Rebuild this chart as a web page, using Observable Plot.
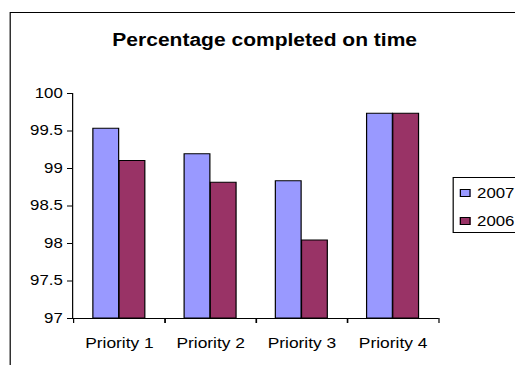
<!DOCTYPE html>
<html>
<head>
<meta charset="utf-8">
<script src="https://cdn.jsdelivr.net/npm/d3@7"></script>
<script src="https://cdn.jsdelivr.net/npm/@observablehq/plot@0.6"></script>
<style>
  html, body { margin: 0; padding: 0; background: #fff; width: 515px; height: 365px; overflow: hidden; }
  /* the chart is laid out at a narrower width, then widened horizontally */
  #stage { position: absolute; left: 0; top: 0; width: 429px; height: 365px;
           transform: scaleX(1.2005); transform-origin: 0 0;
           font-family: "Liberation Sans", Arial, sans-serif; color: #000; }
  #border { position: absolute; left: 8.3px; top: 11.5px; width: 450px; height: 420px;
            border: 1.4px solid #000; box-sizing: border-box; }
  #title { position: absolute; left: 8px; width: 425px; top: 30px; line-height: 20px;
           text-align: center; font-weight: bold; font-size: 17.5px; }
  #plot { position: absolute; left: 0; top: 0; }
  #legend { position: absolute; left: 377.4px; top: 177px; width: 70px; height: 56px;
            border: 1px solid #000; box-sizing: border-box; background: #fff; font-size: 14px; }
  .item { position: absolute; left: 5px; height: 16px; line-height: 16px; white-space: nowrap; }
  .sw { position: absolute; left: 0; top: 3.5px; width: 8.3px; height: 8.3px;
        border: 1px solid #000; box-sizing: border-box; }
  .lab { position: absolute; left: 14px; top: 0; }
</style>
</head>
<body>
<div id="stage">
  <div id="border"></div>
  <div id="title">Percentage completed on time</div>
  <div id="plot"></div>
  <div id="legend"></div>
</div>
<script>
// Categories and the two yearly series (percent completed on time)
const priorities = ["Priority 1", "Priority 2", "Priority 3", "Priority 4"];
const values2007 = [99.53, 99.19, 98.83, 99.73];
const values2006 = [99.10, 98.81, 98.04, 99.73];
const seriesNames = ["2007", "2006"];
const seriesColors = ["#9999FF", "#993366"];
const yTicks = [97, 97.5, 98, 98.5, 99, 99.5, 100];
const yMin = 97, yMax = 100;

const W = 429, H = 365;
const margin = {left: 60, right: 63.6, top: 93, bottom: 47};

// band per category; two bars plus a gap of 1.5 bar widths (split on both sides)
const bandW = (W - margin.left - margin.right) / priorities.length;
const barW = bandW / 3.5;

const rows = (vals) => priorities.map((p, i) => ({priority: p, value: vals[i]}));

const chart = Plot.plot({
  width: W,
  height: H,
  marginLeft: margin.left,
  marginRight: margin.right,
  marginTop: margin.top,
  marginBottom: margin.bottom,
  style: {background: "transparent", fontFamily: "'Liberation Sans', Arial, sans-serif", fontSize: "14px", color: "#000"},
  x: {domain: priorities, padding: 0, axis: null, label: null},
  y: {domain: [yMin, yMax], axis: null, label: null},
  marks: [
    Plot.barY(rows(values2007), {
      x: "priority", y1: yMin, y2: "value",
      fill: seriesColors[0], stroke: "#000", strokeWidth: 1,
      insetLeft: 0.75 * barW, insetRight: bandW - 1.75 * barW
    }),
    Plot.barY(rows(values2006), {
      x: "priority", y1: yMin, y2: "value",
      fill: seriesColors[1], stroke: "#000", strokeWidth: 1,
      insetLeft: 1.75 * barW, insetRight: bandW - 2.75 * barW
    }),
    // value axis
    Plot.frame({anchor: "left", stroke: "#000"}),
    Plot.axisY({ticks: yTicks, tickSize: 4.2, tickPadding: 4, tickFormat: d3.format("~g"),
                fontSize: 14, stroke: "#000", label: null}),
    // category axis: baseline, boundary ticks and labels
    Plot.ruleY([yMin], {stroke: "#000"}),
    Plot.ruleX(priorities, {x: (d) => d, y1: yMin, y2: yMin, insetBottom: -5, dx: -bandW / 2, stroke: "#000"}),
    Plot.ruleX(priorities, {x: (d) => d, y1: yMin, y2: yMin, insetBottom: -5, dx: bandW / 2, stroke: "#000"}),
    Plot.axisX({tickSize: 0, tickPadding: 19, fontSize: 14.5, label: null})
  ]
});
document.getElementById("plot").appendChild(chart);

// legend
const legend = document.getElementById("legend");
seriesNames.forEach((name, i) => {
  const item = document.createElement("div");
  item.className = "item";
  item.style.top = (7 + i * 28) + "px";
  const sw = document.createElement("div");
  sw.className = "sw";
  sw.style.background = seriesColors[i];
  const lab = document.createElement("span");
  lab.className = "lab";
  lab.textContent = name;
  item.appendChild(sw);
  item.appendChild(lab);
  legend.appendChild(item);
});
</script>
</body>
</html>
